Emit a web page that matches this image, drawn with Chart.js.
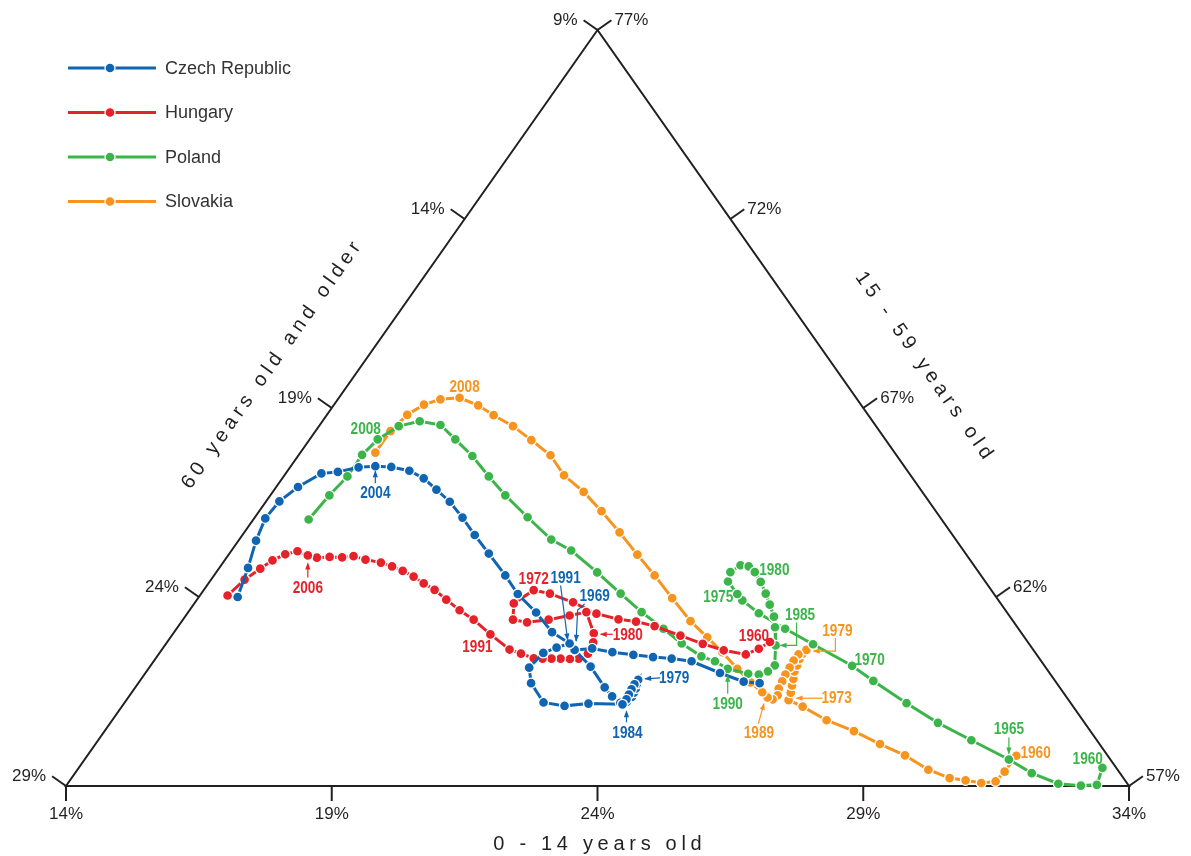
<!DOCTYPE html>
<html>
<head>
<meta charset="utf-8">
<script src="https://cdn.jsdelivr.net/npm/chart.js@4.4.1/dist/chart.umd.min.js"></script>
<style>
html,body{margin:0;padding:0;background:#fff;}
#wrap{width:1191px;height:856px;position:relative;}
</style>
</head>
<body>
<div id="wrap"><canvas id="c"></canvas></div>
<script>
// ---- data: share of population (%) aged 0-14 ("child") and 60+ ("old"); 15-59 = 100 - child - old ----
const countries = ['Czech Republic', 'Hungary', 'Poland', 'Slovakia'];
const colors = ['#0f65b2', '#e52229', '#3bb54a', '#f7941e'];

const czechChild = [25.69,25.37,24.81,24.12,23.71,23.34,22.94,22.51,22.08,21.77,22.29,22.83,23.09,23.33,23.44,23.47,23.45,23.43,23.39,23.36,23.35,23.36,23.38,23.40,23.39,22.74,22.32,21.88,21.39,21.15,21.22,21.40,21.59,21.11,20.55,19.96,19.48,18.88,18.37,17.91,17.46,17.05,16.66,16.29,15.90,15.59,15.29,14.96,14.67,14.41,14.25,14.21,14.33,14.54,14.73];
const czechOld   = [14.59,14.87,15.20,15.58,15.92,16.25,16.59,16.95,17.28,17.63,17.55,17.56,17.54,17.47,17.33,17.17,17.08,16.99,16.91,16.83,16.96,17.08,17.20,17.31,17.45,18.08,18.56,18.91,18.89,18.72,18.26,17.94,17.64,17.82,17.86,17.96,17.95,17.97,17.99,17.99,18.02,18.11,18.20,18.37,18.66,18.95,19.28,19.73,20.06,20.68,21.22,21.71,22.18,22.69,23.27];

const hungaryChild = [25.34,25.22,25.05,24.58,24.10,23.57,22.96,22.55,22.19,21.70,21.11,20.56,20.21,20.01,20.21,20.51,20.88,21.22,21.49,21.91,22.02,22.07,21.96,21.80,21.62,21.45,21.28,21.11,20.81,20.54,19.98,19.47,19.08,18.69,18.34,18.05,17.77,17.49,17.23,16.97,16.64,16.37,16.17,15.93,15.70,15.50,15.25,15.06,14.90,14.78,14.63,14.52];
const hungaryOld   = [13.85,14.15,14.47,14.83,15.14,15.45,15.81,16.10,16.40,16.74,17.03,17.35,17.61,18.16,18.39,18.16,17.72,17.27,16.91,17.05,17.18,17.43,17.67,17.84,18.01,18.18,18.35,18.51,18.69,18.85,19.01,19.13,19.27,19.38,19.47,19.59,19.69,19.82,19.96,20.12,20.37,20.55,20.78,21.01,21.26,21.40,21.54,21.81,22.13,22.47,22.91,23.44];

const polandChild = [33.26,33.38,33.09,32.64,32.00,31.39,30.43,29.57,28.72,27.80,27.20,26.18,25.45,24.75,24.27,24.09,23.75,23.67,23.77,23.94,24.13,24.37,24.62,24.84,25.08,25.24,25.49,25.74,25.69,25.56,25.35,24.90,24.56,24.24,23.70,23.16,22.53,21.89,21.17,20.39,19.87,19.13,18.42,17.86,17.28,16.74,16.27,15.83,15.50,15.28,15.19,15.20,15.11,15.04];
const polandOld   = [9.26,9.59,9.90,10.30,10.66,10.91,11.36,11.76,12.09,12.42,12.62,13.07,13.39,13.68,13.82,13.83,13.84,13.67,13.39,13.25,13.21,13.23,13.29,13.36,13.44,13.56,13.79,14.07,14.28,14.49,14.68,15.00,15.14,15.33,15.53,15.68,15.87,16.02,16.18,16.38,16.61,16.76,16.89,16.95,16.99,17.09,17.18,17.52,17.98,18.55,19.05,19.61,20.20,20.91];

const slovakiaChild = [31.48,31.47,31.43,31.18,30.85,30.52,30.01,29.38,28.76,28.10,27.44,26.81,26.46,26.40,26.33,26.27,26.19,26.16,26.12,26.11,26.13,26.04,26.03,26.05,26.06,26.09,26.12,26.19,26.15,26.03,25.86,25.51,25.08,24.58,24.10,23.57,22.92,22.29,21.69,21.06,20.44,19.85,19.26,18.74,18.18,17.65,17.14,16.72,16.27,15.93,15.69,15.51,15.41,15.41];
const slovakiaOld   = [10.72,11.15,11.45,11.74,12.00,12.27,12.56,12.81,13.13,13.45,13.82,14.09,14.27,14.13,14.01,13.90,13.78,13.65,13.52,13.39,13.27,13.48,13.65,13.82,13.99,14.14,14.30,14.41,14.56,14.63,14.66,14.75,14.82,14.88,14.97,15.07,15.11,15.14,15.19,15.23,15.29,15.37,15.52,15.51,15.67,15.83,16.05,16.21,16.46,16.84,17.22,17.67,18.20,18.77];

// axis ticks (%)
const bottomTicks = [14, 19, 24, 29, 34];   // 0 - 14 years old
const leftTicks   = [9, 14, 19, 24, 29];    // 60 years old and older
const rightTicks  = [77, 72, 67, 62, 57];   // 15 - 59 years old
const axisTitles = { bottom: '0 - 14 years old', left: '60 years old and older', right: '15 - 59 years old' };

// year annotations: series, point index, text, label offset, arrow offsets (px, relative to point)
const yearNotes = [
  {s:0, i:45, t:'2004', d:[0,26],   a:[[0,17],[0,5]]},
  {s:0, i:32, t:'1991', d:[-4,-66], a:[[-9,-58],[-2,-4]]},
  {s:0, i:9,  t:'1969', d:[20,-55], a:[[10,-46],[3,-40],[1.5,-9]]},
  {s:0, i:19, t:'1979', d:[36,-2],  a:[[22,-2],[7,-1]]},
  {s:0, i:24, t:'1984', d:[5,28],   a:[[4,18],[4,7]]},
  {s:1, i:45, t:'2006', d:[0,32],   a:[[0,22],[0,8]]},
  {s:1, i:12, t:'1972', d:[0,-12]},
  {s:1, i:19, t:'1980', d:[34,1],   a:[[19,1],[7,1]]},
  {s:1, i:30, t:'1991', d:[-13,12]},
  {s:1, i:0,  t:'1960', d:[-16,-7]},
  {s:2, i:49, t:'2008', d:[-12,-11]},
  {s:2, i:15, t:'1975', d:[-19,2]},
  {s:2, i:20, t:'1980', d:[19.5,-2.7]},
  {s:2, i:26, t:'1985', d:[24.5,-31], a:[[21,-23],[21,0],[5,0]]},
  {s:2, i:31, t:'1990', d:[0,34],   a:[[0,25],[0,7]]},
  {s:2, i:10, t:'1970', d:[17.5,-6]},
  {s:2, i:5,  t:'1965', d:[0,-31.5], a:[[0,-22],[0,-6]]},
  {s:2, i:0,  t:'1960', d:[-14.7,-10]},
  {s:3, i:48, t:'2008', d:[5,-11]},
  {s:3, i:20, t:'1979', d:[31,-19.5], a:[[29,-12],[29,1.2],[7.3,1.2]]},
  {s:3, i:12, t:'1973', d:[48,-3],  a:[[34,-2],[8,-2]]},
  {s:3, i:29, t:'1989', d:[-8.7,35], a:[[-9.3,26.3],[-3.7,6.3]]},
  {s:3, i:0,  t:'1960', d:[19.3,-3]}
];

// ternary -> cartesian data coords: x = child - old, y = share 15-59
function toXY(child, old) {
  return child.map((a, k) => ({ x: a - old[k], y: 100 - a - old[k] }));
}
const seriesChild = [czechChild, hungaryChild, polandChild, slovakiaChild];
const seriesOld = [czechOld, hungaryOld, polandOld, slovakiaOld];

const datasets = countries.map((name, k) => ({
  label: name,
  data: toXY(seriesChild[k], seriesOld[k]),
  showLine: true,
  borderColor: colors[k],
  backgroundColor: colors[k],
  borderWidth: 3,
  pointRadius: 5,
  pointBorderColor: '#ffffff',
  pointBorderWidth: 1.3,
  tension: 0,
  clip: false
}));

function spacedText(ctx, text, cx, cy, angle, spacing) {
  ctx.save();
  ctx.translate(cx, cy);
  ctx.rotate(angle);
  const chars = [...text];
  const w = chars.map(ch => ctx.measureText(ch).width);
  const total = w.reduce((p, q) => p + q, 0) + spacing * (chars.length - 1);
  let x = -total / 2;
  ctx.textAlign = 'left';
  ctx.textBaseline = 'middle';
  chars.forEach((ch, k) => { ctx.fillText(ch, x, 0); x += w[k] + spacing; });
  ctx.restore();
}

function drawArrow(ctx, pts, color) {
  ctx.save();
  ctx.strokeStyle = color; ctx.fillStyle = color; ctx.lineWidth = 1.2;
  ctx.beginPath();
  pts.forEach((p, k) => k ? ctx.lineTo(p[0], p[1]) : ctx.moveTo(p[0], p[1]));
  ctx.stroke();
  const [x1, y1] = pts[pts.length - 2], [x2, y2] = pts[pts.length - 1];
  const ang = Math.atan2(y2 - y1, x2 - x1), L = 6, W = 2.6;
  const c = Math.cos(ang), s = Math.sin(ang);
  ctx.beginPath();
  ctx.moveTo(x2 + c, y2 + s);
  ctx.lineTo(x2 - L * c + W * s, y2 - L * s - W * c);
  ctx.lineTo(x2 - L * c - W * s, y2 - L * s + W * c);
  ctx.closePath(); ctx.fill();
  ctx.restore();
}

const ternaryPlugin = {
  id: 'ternary',
  beforeDatasetsDraw(chart) {
    const ctx = chart.ctx, xs = chart.scales.x, ys = chart.scales.y;
    const P = (a, c) => [xs.getPixelForValue(a - c), ys.getPixelForValue(100 - a - c)];
    const T = P(14, 9), L = P(14, 29), R = P(34, 9);
    ctx.save();
    ctx.strokeStyle = '#231f20';
    ctx.lineWidth = 2;
    ctx.lineJoin = 'miter';
    ctx.beginPath(); ctx.moveTo(T[0], T[1]); ctx.lineTo(L[0], L[1]); ctx.lineTo(R[0], R[1]); ctx.closePath(); ctx.stroke();

    const norm = (v) => { const m = Math.hypot(v[0], v[1]); return [v[0] / m, v[1] / m]; };
    const dl = norm([L[0] - T[0], L[1] - T[1]]);
    const nl = [-dl[1], dl[0]];          // outward of left edge
    const dr = norm([R[0] - T[0], R[1] - T[1]]);
    const nr = [dr[1], -dr[0]];          // outward of right edge

    ctx.fillStyle = '#231f20';
    ctx.font = '17px "Liberation Sans", Arial, sans-serif';
    ctx.textBaseline = 'middle';
    ctx.lineWidth = 2;
    bottomTicks.forEach(v => {
      const p = P(v, 43 - v);
      ctx.beginPath(); ctx.moveTo(p[0], p[1]); ctx.lineTo(p[0], p[1] + 15); ctx.stroke();
      ctx.textAlign = 'center';
      ctx.fillText(v + '%', p[0], p[1] + 28);
    });
    leftTicks.forEach(v => {
      const p = P(14, v);
      const e = [p[0] + nl[0] * 17, p[1] + nl[1] * 17];
      ctx.beginPath(); ctx.moveTo(p[0], p[1]); ctx.lineTo(e[0], e[1]); ctx.stroke();
      ctx.textAlign = 'right';
      ctx.fillText(v + '%', e[0] - 6, e[1]);
    });
    rightTicks.forEach(v => {
      const p = P(91 - v, 9);
      const e = [p[0] + nr[0] * 17, p[1] + nr[1] * 17];
      ctx.beginPath(); ctx.moveTo(p[0], p[1]); ctx.lineTo(e[0], e[1]); ctx.stroke();
      ctx.textAlign = 'left';
      ctx.fillText(v + '%', e[0] + 3, e[1]);
    });

    ctx.font = '20px "Liberation Sans", Arial, sans-serif';
    ctx.fillStyle = '#231f20';
    spacedText(ctx, axisTitles.bottom, T[0], L[1] + 58, 0, 4.7);
    const ml = [(T[0] + L[0]) / 2 + nl[0] * 74, (T[1] + L[1]) / 2 + nl[1] * 74];
    spacedText(ctx, axisTitles.left, ml[0], ml[1], Math.atan2(T[1] - L[1], T[0] - L[0]), 4.7);
    const mr = [(T[0] + R[0]) / 2 + nr[0] * 74, (T[1] + R[1]) / 2 + nr[1] * 74];
    spacedText(ctx, axisTitles.right, mr[0], mr[1], Math.atan2(R[1] - T[1], R[0] - T[0]), 4.7);
    ctx.restore();
  },
  afterDatasetsDraw(chart) {
    const ctx = chart.ctx;
    yearNotes.forEach(n => {
      const pt = chart.getDatasetMeta(n.s).data[n.i];
      const col = colors[n.s];
      if (n.a) drawArrow(ctx, n.a.map(q => [pt.x + q[0], pt.y + q[1]]), col);
      ctx.save();
      ctx.translate(pt.x + n.d[0], pt.y + n.d[1]);
      ctx.scale(0.8, 1);
      ctx.font = 'bold 17px "Liberation Sans", Arial, sans-serif';
      ctx.fillStyle = col;
      ctx.textAlign = 'center';
      ctx.textBaseline = 'middle';
      ctx.fillText(n.t, 0, 1);
      ctx.restore();
    });
    ctx.save();
    chart.data.datasets.forEach((ds, k) => {
      const y = 68 + k * 44.5;
      ctx.strokeStyle = ds.borderColor; ctx.lineWidth = 3;
      ctx.beginPath(); ctx.moveTo(68, y); ctx.lineTo(156, y); ctx.stroke();
      ctx.beginPath(); ctx.arc(110, y, 5, 0, Math.PI * 2);
      ctx.fillStyle = ds.backgroundColor; ctx.fill();
      ctx.strokeStyle = '#fff'; ctx.lineWidth = 1.3; ctx.stroke();
      ctx.fillStyle = '#333';
      ctx.font = '18px "Liberation Sans", Arial, sans-serif';
      ctx.textAlign = 'left'; ctx.textBaseline = 'middle';
      ctx.fillText(ds.label, 165, y + 1);
    });
    ctx.restore();
  }
};

new Chart(document.getElementById('c'), {
  type: 'scatter',
  data: { datasets },
  options: {
    responsive: true,
    maintainAspectRatio: false,
    animation: false,
    events: [],
    layout: { padding: { left: 66, right: 62, top: 30, bottom: 70 } },
    scales: {
      x: { type: 'linear', min: -15, max: 25, display: false },
      y: { type: 'linear', min: 57, max: 77, display: false }
    },
    plugins: { legend: { display: false }, tooltip: { enabled: false } }
  },
  plugins: [ternaryPlugin]
});
</script>
</body>
</html>
